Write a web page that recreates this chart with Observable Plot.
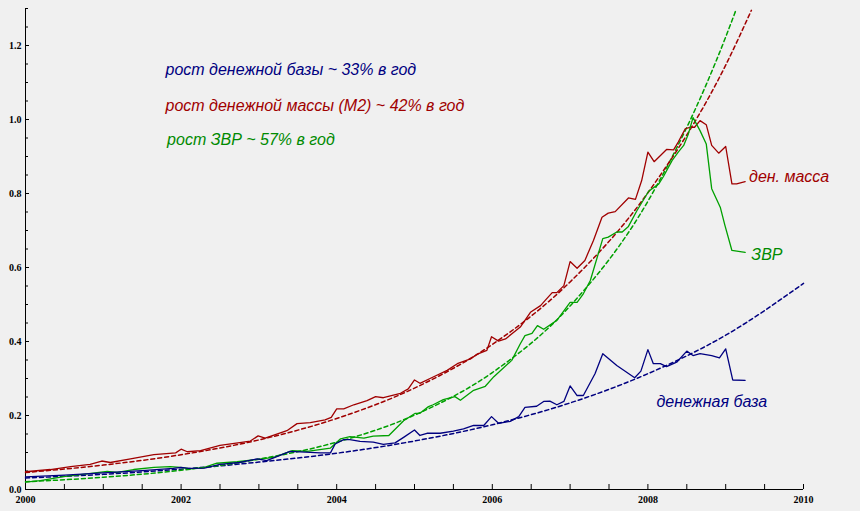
<!DOCTYPE html>
<html>
<head>
<meta charset="utf-8">
<script src="https://cdn.jsdelivr.net/npm/d3@7"></script>
<script src="https://cdn.jsdelivr.net/npm/@observablehq/plot@0.6"></script>
<style>
  html, body { margin: 0; padding: 0; background: #f0f0f0; }
  #chart svg { display: block; }
  #chart [aria-label="x-axis tick label"] text,
  #chart [aria-label="y-axis tick label"] text { font-family: "Liberation Serif", serif; font-weight: bold; font-size: 10px; fill: #000; }
</style>
</head>
<body>
<div id="chart"></div>
<script>
// ---------- tick labels ----------
const xTicks = [2000, 2000.5, 2001, 2001.5, 2002, 2002.5, 2003, 2003.5, 2004, 2004.5, 2005, 2005.5, 2006, 2006.5, 2007, 2007.5, 2008, 2008.5, 2009, 2009.5, 2010];
const xLabelTicks = [2000, 2002, 2004, 2006, 2008, 2010];
const yMinorTicks = [0, 0.05, 0.1, 0.15, 0.2, 0.25, 0.3, 0.35, 0.4, 0.45, 0.5, 0.55, 0.6, 0.65, 0.7, 0.75, 0.8, 0.85, 0.9, 0.95, 1.0, 1.05, 1.1, 1.15, 1.2, 1.25, 1.3];
const yLabelTicks = [0, 0.2, 0.4, 0.6, 0.8, 1.0, 1.2];

// ---------- денежная масса (M2) ----------
const m2Years = [2000.0, 2000.32, 2000.58, 2000.83, 2000.98, 2001.09, 2001.35, 2001.65, 2001.93, 2002.0, 2002.08, 2002.25, 2002.5, 2002.89, 2002.99, 2003.08, 2003.36, 2003.49, 2003.66, 2003.85, 2003.93, 2004.0, 2004.09, 2004.22, 2004.39, 2004.5, 2004.6, 2004.82, 2004.92, 2005.0, 2005.07, 2005.24, 2005.42, 2005.55, 2005.72, 2005.8, 2005.93, 2005.99, 2006.08, 2006.17, 2006.36, 2006.49, 2006.62, 2006.68, 2006.77, 2006.83, 2006.92, 2007.0, 2007.09, 2007.19, 2007.3, 2007.41, 2007.49, 2007.58, 2007.75, 2007.84, 2007.92, 2008.0, 2008.08, 2008.24, 2008.33, 2008.39, 2008.48, 2008.54, 2008.6, 2008.67, 2008.75, 2008.82, 2008.91, 2009.0, 2009.08, 2009.14, 2009.25];
const m2Values = [0.048, 0.054, 0.062, 0.068, 0.077, 0.073, 0.083, 0.094, 0.099, 0.109, 0.102, 0.105, 0.119, 0.131, 0.145, 0.139, 0.159, 0.178, 0.181, 0.188, 0.195, 0.218, 0.218, 0.229, 0.240, 0.251, 0.248, 0.260, 0.272, 0.296, 0.287, 0.304, 0.322, 0.340, 0.353, 0.365, 0.376, 0.413, 0.401, 0.407, 0.439, 0.479, 0.497, 0.511, 0.532, 0.532, 0.551, 0.616, 0.598, 0.619, 0.673, 0.736, 0.747, 0.751, 0.788, 0.784, 0.835, 0.912, 0.886, 0.919, 0.918, 0.939, 0.975, 0.979, 0.979, 0.997, 0.986, 0.930, 0.909, 0.927, 0.826, 0.826, 0.832];

// ---------- ЗВР ----------
const resYears = [2000.0, 2000.19, 2000.49, 2000.79, 2001.05, 2001.18, 2001.39, 2001.65, 2001.86, 2001.99, 2002.12, 2002.29, 2002.46, 2002.72, 2002.93, 2003.19, 2003.43, 2003.62, 2003.92, 2004.05, 2004.17, 2004.35, 2004.47, 2004.67, 2004.86, 2005.01, 2005.07, 2005.18, 2005.24, 2005.37, 2005.52, 2005.59, 2005.76, 2005.91, 2006.02, 2006.25, 2006.36, 2006.42, 2006.51, 2006.58, 2006.66, 2006.83, 2007.0, 2007.09, 2007.17, 2007.26, 2007.42, 2007.49, 2007.6, 2007.67, 2007.75, 2007.86, 2008.01, 2008.14, 2008.2, 2008.31, 2008.39, 2008.46, 2008.52, 2008.58, 2008.67, 2008.75, 2008.82, 2008.93, 2008.99, 2009.08, 2009.25];
const resValues = [0.020, 0.024, 0.035, 0.042, 0.049, 0.046, 0.054, 0.060, 0.062, 0.060, 0.056, 0.059, 0.071, 0.075, 0.080, 0.087, 0.105, 0.103, 0.112, 0.137, 0.143, 0.139, 0.144, 0.146, 0.186, 0.206, 0.206, 0.224, 0.229, 0.243, 0.251, 0.241, 0.268, 0.279, 0.305, 0.349, 0.394, 0.416, 0.422, 0.443, 0.433, 0.457, 0.506, 0.506, 0.529, 0.565, 0.678, 0.682, 0.696, 0.696, 0.711, 0.754, 0.806, 0.826, 0.846, 0.889, 0.912, 0.930, 0.961, 1.005, 0.970, 0.934, 0.813, 0.763, 0.714, 0.646, 0.641];

// ---------- денежная база ----------
const baseYears = [2000.0, 2000.5, 2001.0, 2001.5, 2001.9, 2002.0, 2002.1, 2002.3, 2002.5, 2002.75, 2002.98, 2003.1, 2003.4, 2003.79, 2003.92, 2003.98, 2004.09, 2004.17, 2004.3, 2004.47, 2004.6, 2004.75, 2004.86, 2005.0, 2005.07, 2005.16, 2005.33, 2005.5, 2005.63, 2005.76, 2005.89, 2005.99, 2006.08, 2006.23, 2006.34, 2006.42, 2006.57, 2006.66, 2006.74, 2006.83, 2006.92, 2007.0, 2007.09, 2007.17, 2007.32, 2007.42, 2007.6, 2007.83, 2007.91, 2008.0, 2008.07, 2008.16, 2008.24, 2008.37, 2008.5, 2008.58, 2008.67, 2008.82, 2008.92, 2009.0, 2009.09, 2009.25];
const baseValues = [0.034, 0.039, 0.045, 0.051, 0.057, 0.060, 0.057, 0.058, 0.068, 0.073, 0.083, 0.078, 0.103, 0.099, 0.099, 0.123, 0.135, 0.135, 0.130, 0.128, 0.122, 0.126, 0.141, 0.161, 0.146, 0.152, 0.152, 0.158, 0.164, 0.173, 0.173, 0.197, 0.179, 0.184, 0.197, 0.222, 0.225, 0.238, 0.239, 0.229, 0.238, 0.280, 0.254, 0.254, 0.313, 0.367, 0.335, 0.302, 0.320, 0.378, 0.340, 0.340, 0.332, 0.344, 0.374, 0.362, 0.367, 0.362, 0.356, 0.380, 0.296, 0.295];

// ---------- trend (dashed) curves ----------
const m2TrendYears = [2000, 2001, 2002, 2003, 2004, 2005, 2006, 2007, 2008, 2009, 2009.33];
const m2TrendValues = [0.046, 0.066, 0.094, 0.134, 0.192, 0.274, 0.392, 0.561, 0.802, 1.147, 1.295];
const resTrendYears = [2000, 2001, 2002, 2003, 2004, 2005, 2006, 2007, 2008, 2009, 2009.13];
const resTrendValues = [0.021, 0.033, 0.052, 0.082, 0.128, 0.201, 0.316, 0.496, 0.779, 1.223, 1.295];
const baseTrendYears = [2000, 2001, 2002, 2003, 2004, 2005, 2006, 2007, 2008, 2009, 2010];
const baseTrendValues = [0.031, 0.041, 0.055, 0.074, 0.098, 0.131, 0.175, 0.234, 0.313, 0.417, 0.557];

// ---------- texts ----------
const textBase = "рост денежной базы ~ 33% в год";
const textM2 = "рост денежной массы (М2) ~ 42% в год";
const textRes = "рост ЗВР ~ 57% в год";
const labelM2 = "ден. масса";
const labelRes = "ЗВР";
const labelBase = "денежная база";

const RED = "#a00000", GREEN = "#00a000", NAVY = "#000080";
const GREEN_TEXT = "#008a00";

const toRows = (xs, ys) => xs.map((x, i) => ({x, y: ys[i]}));
const m2 = toRows(m2Years, m2Values);
const res = toRows(resYears, resValues);
const base = toRows(baseYears, baseValues);
const m2Trend = toRows(m2TrendYears, m2TrendValues);
const resTrend = toRows(resTrendYears, resTrendValues);
const baseTrend = toRows(baseTrendYears, baseTrendValues);

const labelFont = {fontFamily: "'Liberation Sans', Arial, sans-serif", fontStyle: "italic", fontSize: 16};

const chart = Plot.plot({
  width: 860,
  height: 511,
  marginLeft: 25,
  marginRight: 57,
  marginTop: 8,
  marginBottom: 22,
  style: {background: "#f0f0f0"},
  x: {domain: [2000, 2010], axis: null, label: null},
  y: {domain: [0, 1.3], axis: null, label: null},
  marks: [
    // axes lines
    Plot.ruleY([0], {x1: 2000, x2: 2010, stroke: "#000", strokeWidth: 1}),
    Plot.ruleX([2000], {y1: 0, y2: 1.3, stroke: "#000", strokeWidth: 1}),
    // inward ticks
    Plot.ruleX(xTicks, {x: d => d, y1: 0, y2: 0, insetTop: -5, stroke: "#000"}),
    Plot.ruleY(yMinorTicks, {y: d => d, x1: 2000, x2: 2000, insetRight: -3, stroke: "#000"}),
    Plot.ruleY(yLabelTicks, {y: d => d, x1: 2000, x2: 2000, insetRight: -4, stroke: "#000"}),
    // tick labels
    Plot.axisX({ticks: xLabelTicks, tickSize: 0, tickPadding: 6, label: null, tickFormat: d => String(d)}),
    Plot.axisY({ticks: yLabelTicks, tickSize: 0, tickPadding: 4, label: null, tickFormat: d => d.toFixed(1)}),
    // trend curves
    Plot.line(baseTrend, {x: "x", y: "y", stroke: NAVY, strokeWidth: 1.5, strokeDasharray: "4,3", curve: "monotone-x"}),
    Plot.line(resTrend, {x: "x", y: "y", stroke: GREEN, strokeWidth: 1.5, strokeDasharray: "4,3", curve: "monotone-x"}),
    Plot.line(m2Trend, {x: "x", y: "y", stroke: RED, strokeWidth: 1.5, strokeDasharray: "4,3", curve: "monotone-x"}),
    // data series
    Plot.line(m2, {x: "x", y: "y", stroke: RED, strokeWidth: 1.3}),
    Plot.line(res, {x: "x", y: "y", stroke: GREEN, strokeWidth: 1.3}),
    Plot.line(base, {x: "x", y: "y", stroke: NAVY, strokeWidth: 1.3}),
    // annotations
    Plot.text([textBase], {x: 2001.80, y: 1.119, text: d => d, fill: NAVY, textAnchor: "start", lineAnchor: "bottom", ...labelFont}),
    Plot.text([textM2], {x: 2001.80, y: 1.022, text: d => d, fill: RED, textAnchor: "start", lineAnchor: "bottom", ...labelFont}),
    Plot.text([textRes], {x: 2001.82, y: 0.930, text: d => d, fill: GREEN_TEXT, textAnchor: "start", lineAnchor: "bottom", ...labelFont}),
    Plot.text([labelM2], {x: 2009.30, y: 0.830, text: d => d, fill: RED, textAnchor: "start", lineAnchor: "bottom", ...labelFont}),
    Plot.text([labelRes], {x: 2009.33, y: 0.621, text: d => d, fill: GREEN_TEXT, textAnchor: "start", lineAnchor: "bottom", ...labelFont}),
    Plot.text([labelBase], {x: 2008.11, y: 0.224, text: d => d, fill: NAVY, textAnchor: "start", lineAnchor: "bottom", ...labelFont})
  ]
});
document.getElementById("chart").appendChild(chart);
</script>
</body>
</html>
